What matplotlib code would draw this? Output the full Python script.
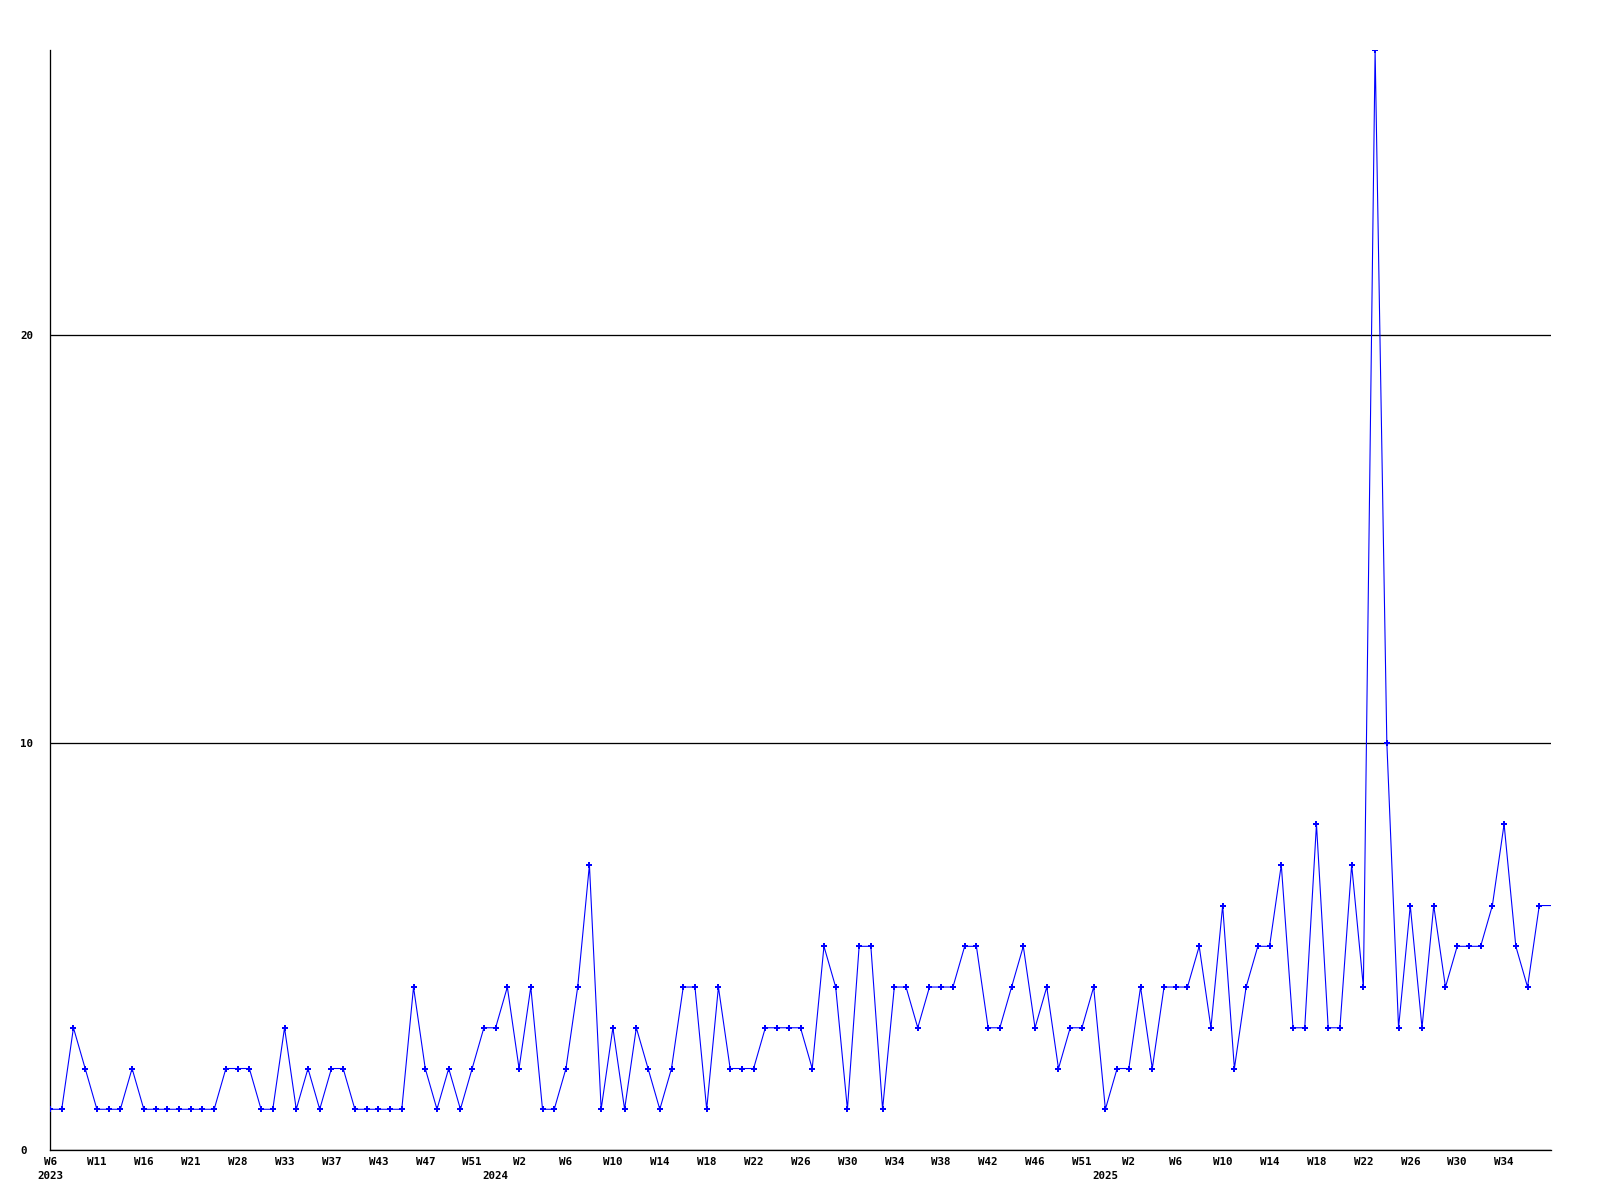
import matplotlib
matplotlib.use("Agg")
import matplotlib.pyplot as plt

# Weekly counts (one point per week present in the data)
values = [
    1, 1, 3, 2, 1, 1, 1, 2, 1, 1, 1, 1, 1, 1, 1, 2, 2, 2, 1,
    1, 3, 1, 2, 1, 2, 2, 1, 1, 1, 1, 1, 4, 2, 1, 2, 1, 2,
    3, 3, 4, 2, 4, 1, 1, 2, 4, 7, 1, 3, 1, 3, 2, 1, 2, 4,
    4, 1, 4, 2, 2, 2, 3, 3, 3, 3, 2, 5, 4, 1, 5, 5, 1, 4,
    4, 3, 4, 4, 4, 5, 5, 3, 3, 4, 5, 3, 4, 2, 3, 3, 4, 1, 2,
    2, 4, 2, 4, 4, 4, 5, 3, 6, 2, 4, 5, 5, 7, 3, 3, 8, 3,
    3, 7, 4, 27, 10, 3, 6, 3, 6, 4, 5, 5, 5, 6, 8, 5, 4, 6, 6,
]

# Week tick labels, shown on every 4th point
week_labels = [
    "W6", "W11", "W16", "W21", "W28", "W33", "W37", "W43", "W47", "W51",
    "W2", "W6", "W10", "W14", "W18", "W22", "W26", "W30", "W34", "W38",
    "W42", "W46", "W51",
    "W2", "W6", "W10", "W14", "W18", "W22", "W26", "W30", "W34",
]
week_label_step = 4

# Year labels and the point index where each year starts
years = ["2023", "2024", "2025"]
year_start_index = [0, 38, 90]

y_ticks = [0, 10, 20]
y_max = 27

px = 72.0 / 100.0  # one pixel in points at dpi 100

fig = plt.figure(figsize=(16, 12), dpi=100)
ax = fig.add_axes([50 / 1600, 50 / 1200, 1501 / 1600, 1100 / 1200])

x = list(range(len(values)))
ax.plot(x, values, color="#0000ff", linewidth=1.1 * px, marker="P",
        markersize=4.4, markeredgewidth=0, markerfacecolor="#0000ff",
        markevery=list(range(len(values) - 1)),
        clip_on=True, zorder=3)

ax.set_xlim(0, len(values) - 1)
ax.set_ylim(0, y_max)

for s in ["top", "right"]:
    ax.spines[s].set_visible(False)
for s in ["left", "bottom"]:
    ax.spines[s].set_color("black")
    ax.spines[s].set_linewidth(1.3 * px)

font = dict(family="DejaVu Sans Mono", weight="bold", size=7.8)

# y axis
ax.set_yticks(y_ticks)
ax.set_yticklabels([str(v) for v in y_ticks], **font)
ax.tick_params(axis="y", length=0, pad=30 * px)
for lbl in ax.get_yticklabels():
    lbl.set_horizontalalignment("left")
ax.yaxis.grid(True, color="black", linewidth=1.3 * px)
ax.set_axisbelow(True)

# x axis: week labels (major) and year labels (minor)
ax.xaxis.remove_overlapping_locs = False
ax.set_xticks([i * week_label_step for i in range(len(week_labels))])
ax.set_xticklabels(week_labels, **font)
ax.set_xticks(year_start_index, minor=True)
ax.set_xticklabels(years, minor=True, **font)
ax.tick_params(axis="x", which="major", length=0, pad=7 * px)
ax.tick_params(axis="x", which="minor", length=0, pad=21 * px)

fig.savefig("out.png", dpi=100, facecolor="white")
